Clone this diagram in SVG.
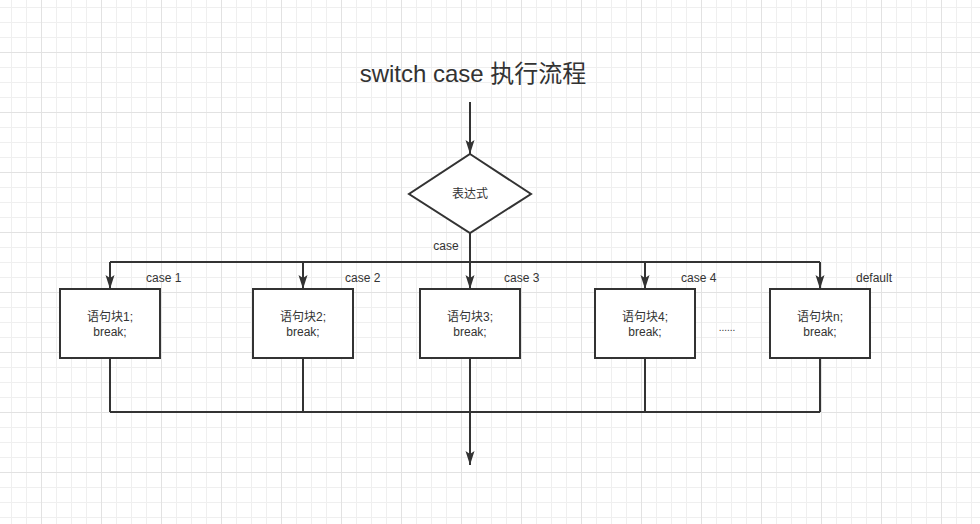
<svg xmlns="http://www.w3.org/2000/svg" width="980" height="524" viewBox="0 0 980 524">
<defs>
<pattern id="minor" width="15" height="15" patternUnits="userSpaceOnUse" x="11" y="7">
<path d="M0.5 0V15M0 0.5H15" stroke="#efefef" stroke-width="1" fill="none"/>
</pattern>
<pattern id="major" width="60" height="60" patternUnits="userSpaceOnUse" x="41" y="52">
<path d="M0.5 0V60M0 0.5H60" stroke="#e2e2e2" stroke-width="1" fill="none"/>
</pattern>
<marker id="arrow" markerUnits="userSpaceOnUse" markerWidth="16" markerHeight="10" refX="14" refY="4.5" orient="auto">
<path d="M0,0 L14,4.5 L0,9 L3,4.5 Z" fill="#333333"/>
</marker>
<style>
.edge{stroke:#333333;stroke-width:2;fill:none}
.shape{stroke:#333333;stroke-width:2;fill:#ffffff}
text{font-family:"Liberation Sans","Noto Sans CJK SC",sans-serif;fill:#333333}
.lbl{font-size:12px}
.ctr{text-anchor:middle}
</style>
</defs>
<rect width="980" height="524" fill="#ffffff"/>
<rect width="980" height="524" fill="url(#minor)"/>
<rect width="980" height="524" fill="url(#major)"/>

<g id="title">
<text x="473" y="82" class="ctr" style="font-size:24px">switch case 执行流程</text>
</g>

<g id="connectors">
<path class="edge" d="M470 102V154" marker-end="url(#arrow)"/>
<path class="edge" d="M470 233V262"/>
<path class="edge" d="M110 262H820"/>
<path class="edge" d="M110 262V289" marker-end="url(#arrow)"/>
<path class="edge" d="M303 262V289" marker-end="url(#arrow)"/>
<path class="edge" d="M470 262V289" marker-end="url(#arrow)"/>
<path class="edge" d="M645 262V289" marker-end="url(#arrow)"/>
<path class="edge" d="M820 262V289" marker-end="url(#arrow)"/>
<path class="edge" d="M110 358V412M303 358V412M645 358V412M820 358V412"/>
<path class="edge" d="M110 412H820"/>
<path class="edge" d="M470 358V465" marker-end="url(#arrow)"/>
<text x="446" y="250" class="lbl ctr">case</text>
<text x="146" y="282" class="lbl">case 1</text>
<text x="345" y="282" class="lbl">case 2</text>
<text x="504" y="282" class="lbl">case 3</text>
<text x="681" y="282" class="lbl">case 4</text>
<text x="856" y="282" class="lbl">default</text>
</g>

<g id="expr">
<polygon class="shape" points="470,154 531,194 470,233 409,194"/>
<text x="470" y="198" class="lbl ctr">表达式</text>
</g>

<g id="block1">
<rect class="shape" x="60" y="289" width="100" height="69"/>
<text x="110" y="321" class="lbl ctr">语句块1;</text>
<text x="110" y="336" class="lbl ctr">break;</text>
</g>
<g id="block2">
<rect class="shape" x="253" y="289" width="100" height="69"/>
<text x="303" y="321" class="lbl ctr">语句块2;</text>
<text x="303" y="336" class="lbl ctr">break;</text>
</g>
<g id="block3">
<rect class="shape" x="420" y="289" width="100" height="69"/>
<text x="470" y="321" class="lbl ctr">语句块3;</text>
<text x="470" y="336" class="lbl ctr">break;</text>
</g>
<g id="block4">
<rect class="shape" x="595" y="289" width="100" height="69"/>
<text x="645" y="321" class="lbl ctr">语句块4;</text>
<text x="645" y="336" class="lbl ctr">break;</text>
</g>
<g id="ellipsis">
<text x="727" y="331" class="lbl ctr" style="font-size:10px">......</text>
</g>
<g id="blockn">
<rect class="shape" x="770" y="289" width="100" height="69"/>
<text x="820" y="321" class="lbl ctr">语句块n;</text>
<text x="820" y="336" class="lbl ctr">break;</text>
</g>
</svg>
